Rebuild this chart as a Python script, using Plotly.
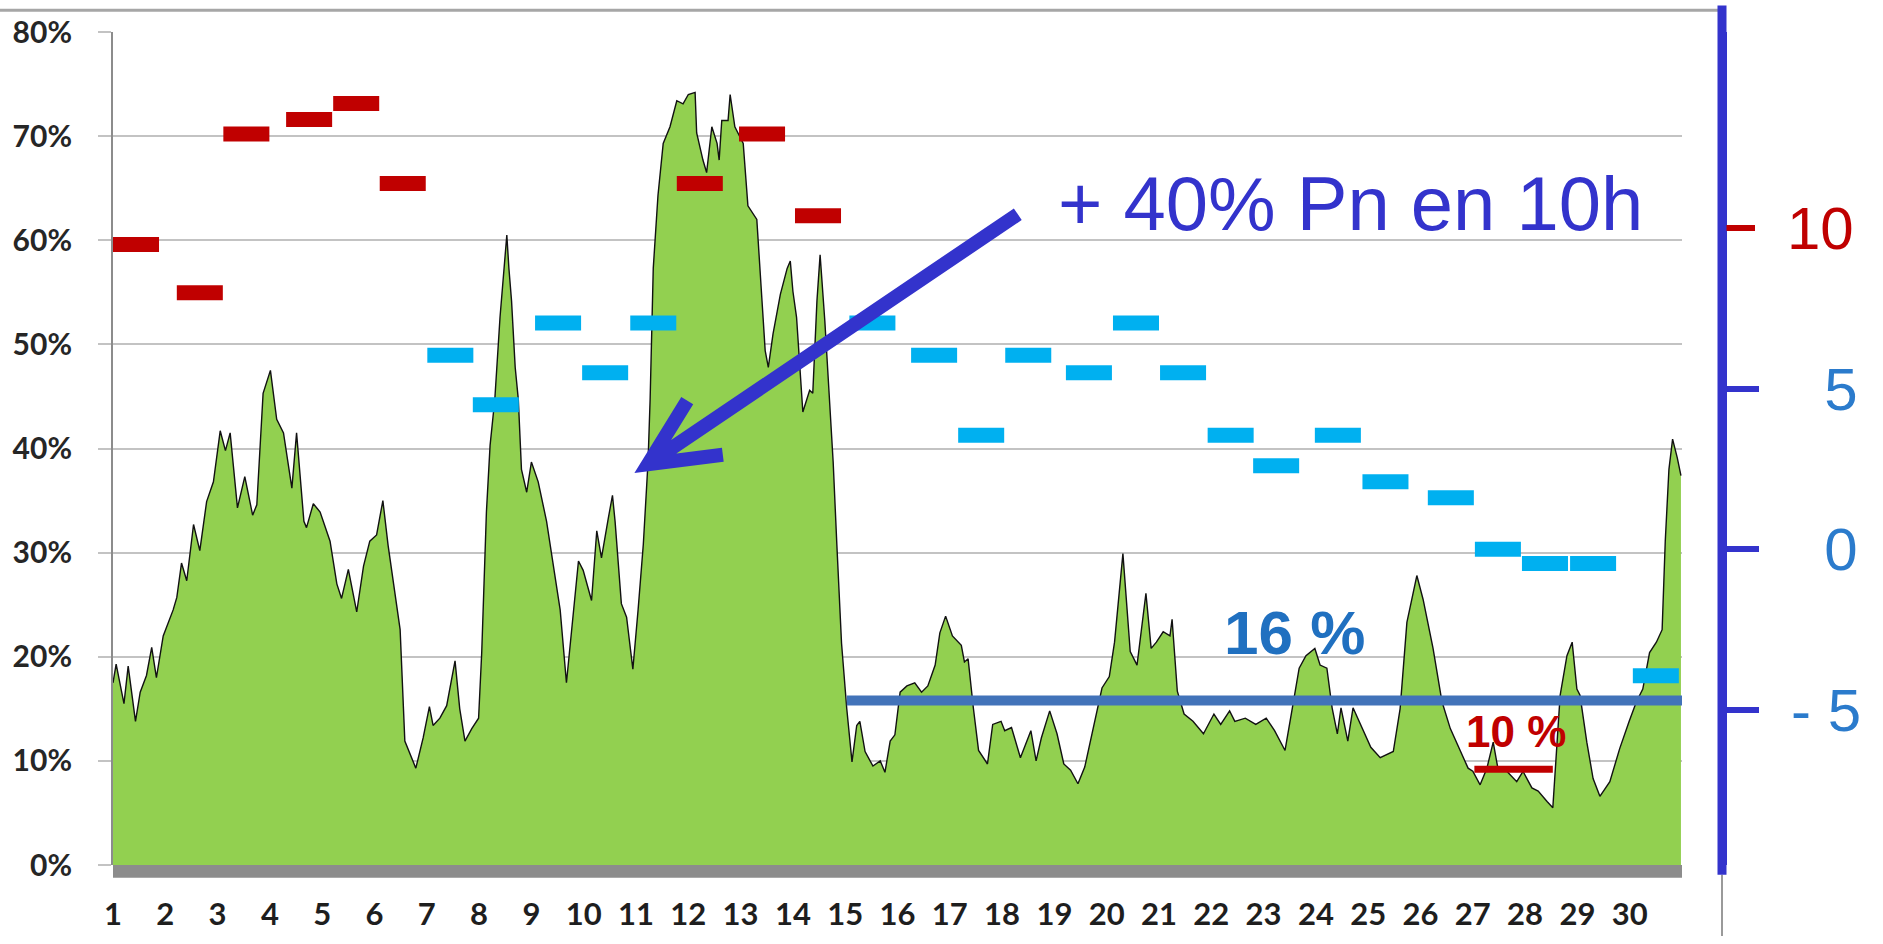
import plotly.graph_objects as go

# ---------------- data ----------------
day_pos = [1.00, 1.06, 1.21, 1.29, 1.43, 1.52, 1.64, 1.74, 1.83, 1.96,
           2.15, 2.22, 2.31, 2.41, 2.54, 2.66, 2.79, 2.92, 3.05, 3.15,
           3.24, 3.38, 3.52, 3.67, 3.75, 3.87, 4.01, 4.13, 4.26, 4.42,
           4.51, 4.65, 4.70, 4.83, 4.96, 5.15, 5.28, 5.37, 5.50, 5.66,
           5.79, 5.91, 6.04, 6.16, 6.26, 6.39, 6.49, 6.58, 6.71, 6.79,
           6.93, 7.05, 7.12, 7.25, 7.38, 7.54, 7.63, 7.73, 7.86, 7.99,
           8.05, 8.14, 8.21, 8.30, 8.40, 8.49, 8.53, 8.57, 8.62, 8.69,
           8.75, 8.81, 8.91, 9.00, 9.13, 9.29, 9.42, 9.55, 9.67, 9.90,
           9.99, 10.15, 10.25, 10.34, 10.47, 10.55, 10.60, 10.72, 10.82, 10.94,
           11.04, 11.14, 11.23, 11.27, 11.33, 11.42, 11.52, 11.65, 11.78, 11.90,
           12.00, 12.13, 12.16, 12.28, 12.35, 12.45, 12.55, 12.59, 12.64, 12.76,
           12.80, 12.89, 13.05, 13.14, 13.31, 13.37, 13.47, 13.53, 13.62, 13.76,
           13.89, 13.95, 14.00, 14.07, 14.19, 14.32, 14.38, 14.46, 14.52, 14.61,
           14.70, 14.77, 14.84, 14.93, 15.03, 15.13, 15.22, 15.28, 15.38, 15.53,
           15.67, 15.76, 15.86, 15.95, 16.05, 16.18, 16.33, 16.46, 16.58, 16.72,
           16.81, 16.92, 17.05, 17.22, 17.28, 17.35, 17.45, 17.55, 17.72, 17.82,
           17.98, 18.05, 18.18, 18.35, 18.55, 18.65, 18.75, 18.91, 19.05, 19.18,
           19.31, 19.45, 19.58, 19.75, 19.91, 20.05, 20.15, 20.31, 20.45, 20.58,
           20.75, 20.85, 20.95, 21.08, 21.21, 21.25, 21.35, 21.48, 21.65, 21.85,
           22.05, 22.18, 22.35, 22.45, 22.65, 22.85, 23.05, 23.21, 23.41, 23.55,
           23.68, 23.81, 23.98, 24.08, 24.21, 24.31, 24.41, 24.48, 24.61, 24.71,
           24.85, 25.05, 25.23, 25.48, 25.61, 25.74, 25.93, 26.05, 26.24, 26.41,
           26.57, 26.76, 26.91, 27.00, 27.14, 27.27, 27.39, 27.49, 27.65, 27.84,
           27.96, 28.13, 28.25, 28.42, 28.53, 28.67, 28.80, 28.90, 28.99, 29.05,
           29.18, 29.30, 29.43, 29.62, 29.81, 29.99, 30.13, 30.25, 30.38, 30.51,
           30.62, 30.68, 30.75, 30.82, 30.91, 30.98]

pn_pct = [17.5, 19.3, 15.5, 19.1, 13.8, 16.6, 18.2, 20.9, 18.0, 22.0,
          24.5, 25.7, 29.0, 27.3, 32.7, 30.2, 34.9, 36.8, 41.7, 39.8,
          41.5, 34.3, 37.3, 33.6, 34.6, 45.3, 47.5, 42.8, 41.5, 36.2,
          41.5, 33.0, 32.4, 34.7, 33.9, 31.1, 27.0, 25.6, 28.4, 24.3,
          28.7, 31.1, 31.7, 35.0, 30.7, 26.1, 22.6, 11.9, 10.3, 9.3,
          12.2, 15.2, 13.4, 14.1, 15.3, 19.6, 15.0, 11.9, 13.1, 14.1,
          20.4, 33.9, 40.3, 44.7, 52.6, 58.0, 60.5, 57.3, 54.2, 47.8,
          44.7, 38.0, 35.8, 38.7, 36.8, 33.0, 28.9, 24.5, 17.5, 29.2,
          28.3, 25.4, 32.1, 29.5, 33.3, 35.5, 33.0, 25.1, 23.8, 18.8,
          24.5, 30.8, 38.7, 44.7, 57.3, 64.3, 69.3, 70.9, 73.4, 73.1,
          74.0, 74.2, 70.3, 67.7, 66.5, 70.9, 69.3, 67.7, 71.5, 71.5,
          74.0, 70.9, 69.3, 63.3, 62.0, 57.3, 49.4, 47.8, 51.0, 54.8,
          57.3, 58.0, 55.1, 52.6, 43.5, 45.6, 45.3, 54.2, 58.6, 52.3,
          44.7, 38.7, 30.8, 21.3, 15.0, 9.9, 13.4, 13.8, 10.9, 9.5,
          10.0, 8.9, 11.9, 12.5, 16.6, 17.2, 17.5, 16.6, 17.2, 19.2,
          22.3, 23.9, 22.0, 21.1, 19.5, 19.8, 15.1, 11.0, 9.7, 13.5,
          13.8, 12.9, 13.2, 10.3, 12.9, 10.0, 12.2, 14.8, 12.6, 9.7,
          9.1, 7.8, 9.4, 13.5, 17.0, 18.1, 21.4, 29.9, 20.5, 19.2,
          26.1, 20.8, 21.4, 22.4, 22.0, 23.6, 16.7, 14.5, 13.8, 12.6,
          14.5, 13.5, 14.8, 13.8, 14.1, 13.5, 14.1, 12.9, 11.0, 15.1,
          18.9, 20.1, 20.8, 19.2, 18.9, 15.1, 12.6, 15.1, 11.9, 15.1,
          13.5, 11.3, 10.3, 10.9, 15.0, 23.3, 27.8, 25.5, 20.8, 15.7,
          13.1, 10.9, 9.3, 9.0, 7.7, 9.3, 11.8, 9.0, 9.0, 8.0,
          9.0, 7.4, 7.1, 6.1, 5.5, 16.3, 20.1, 21.4, 16.9, 16.3,
          11.8, 8.3, 6.6, 8.0, 11.2, 13.8, 15.7, 16.9, 20.4, 21.4,
          22.6, 31.1, 38.0, 40.9, 39.1, 37.4]

# daily temperatures (right axis, degrees)
red_day = [1.44, 2.66, 3.55, 4.75, 5.65, 6.54, 12.22, 13.41, 14.48]
red_temp = [9.5, 8.0, 12.95, 13.4, 13.9, 11.4, 11.4, 12.95, 10.4]
blue_day = [7.45, 8.32, 9.51, 10.41, 11.33, 15.52, 16.70, 17.60, 18.50, 19.66,
            20.56, 21.46, 22.37, 23.24, 24.42, 25.33, 26.58, 27.48, 28.38, 29.30, 30.50]
blue_temp = [6.05, 4.5, 7.05, 5.5, 7.05, 7.05, 6.05, 3.55, 6.05, 5.5,
             7.05, 5.5, 3.55, 2.6, 3.55, 2.1, 1.6, 0.0, -0.45, -0.45, -3.95]

avg_days = [15.03, 31.0]
avg_pct = [15.8, 15.8]
low_days = [27.03, 28.53]
low_pct = [9.2, 9.2]

x_ticks = list(range(1, 31))
y_ticks = [0, 10, 20, 30, 40, 50, 60, 70, 80]
y_labels = [f"{v}%" for v in y_ticks]
temp_ticks_blue = [5, 0, -5]
temp_labels_blue = ["\u00a0\u00a05", "\u00a0\u00a00", "-\u00a05"]
temp_ticks_red = [10]
temp_labels_red = ["10"]
TEMP_RANGE = [-9.848, 16.127]

# ---------------- figure ----------------
W, H = 1883, 944
ML, MR, MT, MB = 113, 161, 27, 72
PW = W - ML - MR
PH = H - MT - MB
XDOM = 1569 / PW

BLUE_AX = "#3333cc"
RED = "#c00000"
CYAN = "#00b0f0"


def segs(centers, vals, half=0.44):
    xs, ys = [], []
    for c, v in zip(centers, vals):
        xs += [c - half, c + half, None]
        ys += [v, v, None]
    return xs, ys


fig = go.Figure()
fig.add_trace(go.Scatter(x=day_pos, y=pn_pct, mode="lines",
                         line=dict(color="#111111", width=1.4),
                         fill="tozeroy", fillcolor="#92d050",
                         hoverinfo="skip"))
fig.add_trace(go.Scatter(x=avg_days, y=avg_pct, mode="lines",
                         line=dict(color="#4273b9", width=10)))
fig.add_trace(go.Scatter(x=low_days, y=low_pct, mode="lines",
                         line=dict(color=RED, width=7)))
rx, ry = segs(red_day, red_temp)
fig.add_trace(go.Scatter(x=rx, y=ry, mode="lines", yaxis="y3",
                         line=dict(color=RED, width=15)))
bx, by = segs(blue_day, blue_temp)
fig.add_trace(go.Scatter(x=bx, y=by, mode="lines", yaxis="y2",
                         line=dict(color=CYAN, width=15)))

# arrow "+ 40% Pn en 10h"
tip = (11.23, 38.5)
tail = (18.30, 62.5)
b1 = (11.98, 44.6)
b2 = (12.66, 39.4)
fig.add_shape(type="path", xref="x", yref="y",
              path=f"M {tail[0]},{tail[1]} L {tip[0]},{tip[1]} "
                   f"M {b1[0]},{b1[1]} L {tip[0]},{tip[1]} L {b2[0]},{b2[1]}",
              line=dict(color=BLUE_AX, width=14))

# decorative frame pieces
fig.add_shape(type="rect", xref="paper", yref="paper",
              x0=0, x1=XDOM, y0=0, y1=-13 / PH,
              fillcolor="#8c8c8c", line=dict(width=0))
fig.add_shape(type="line", xref="paper", yref="paper",
              x0=-ML / PW, x1=1.0, y0=1 + 22 / PH, y1=1 + 22 / PH,
              line=dict(color="#a6a6a6", width=3))
fig.add_shape(type="line", xref="paper", yref="paper",
              x0=1.0, x1=1.0, y0=-10 / PH, y1=-MB / PH,
              line=dict(color="#9a9a9a", width=2))
fig.add_shape(type="line", xref="paper", yref="paper",
              x0=1.0, x1=1.0, y0=-10 / PH, y1=1 + MT / PH,
              line=dict(color=BLUE_AX, width=9))

fig.add_annotation(text="+ 40% Pn en 10h", x=19.03, y=63.5, xref="x", yref="y",
                   xanchor="left", yanchor="middle", showarrow=False,
                   font=dict(family="Liberation Sans, Arial", size=76, color=BLUE_AX))
fig.add_annotation(text="16 %", x=23.6, y=22.3, xref="x", yref="y",
                   xanchor="center", yanchor="middle", showarrow=False,
                   font=dict(family="Liberation Sans, Arial", size=62, color="#2070c0", weight="bold"))
fig.add_annotation(text="10 %", x=27.83, y=12.8, xref="x", yref="y",
                   xanchor="center", yanchor="middle", showarrow=False,
                   font=dict(family="Liberation Sans, Arial", size=44, color=RED, weight="bold"))

right_axis_common = dict(overlaying="y", anchor="free", position=1.0, side="right",
                         range=TEMP_RANGE, showgrid=False, zeroline=False,
                         ticks="outside", ticklen=32, tickwidth=6,
                         ticklabelstandoff=20)

fig.update_layout(
    width=W, height=H,
    margin=dict(l=ML, r=MR, t=MT, b=MB),
    paper_bgcolor="white", plot_bgcolor="white",
    showlegend=False,
    xaxis=dict(domain=[0, XDOM], range=[1, 31], tickvals=x_ticks,
               ticktext=[str(v) for v in x_ticks],
               showgrid=False, zeroline=False, showline=False, ticks="",
               tickfont=dict(family="Lato", size=31, color="#1e1e1e", weight="bold"),
               ticklabelstandoff=28),
    yaxis=dict(range=[0, 80], tickvals=y_ticks, ticktext=y_labels,
               showgrid=True, gridcolor="#c3c3c3", gridwidth=2, zeroline=False,
               showline=True, linecolor="#8c8c8c", linewidth=2,
               ticks="outside", ticklen=13, tickcolor="#c3c3c3", tickwidth=2,
               tickfont=dict(family="Lato", size=30, color="#262626", weight="bold"),
               ticklabelstandoff=20),
    yaxis2=dict(**right_axis_common, tickvals=temp_ticks_blue, ticktext=temp_labels_blue,
                tickcolor=BLUE_AX, showline=True, linecolor=BLUE_AX, linewidth=9,
                tickfont=dict(family="Liberation Sans, Arial", size=60, color="#2b7bcc")),
    yaxis3=dict(**right_axis_common, tickvals=temp_ticks_red, ticktext=temp_labels_red,
                tickcolor=RED, showline=False,
                tickfont=dict(family="Liberation Sans, Arial", size=60, color=RED)),
)

fig.write_html("out.html", config={"displayModeBar": False},
               post_script="document.body.style.margin='0px';")
